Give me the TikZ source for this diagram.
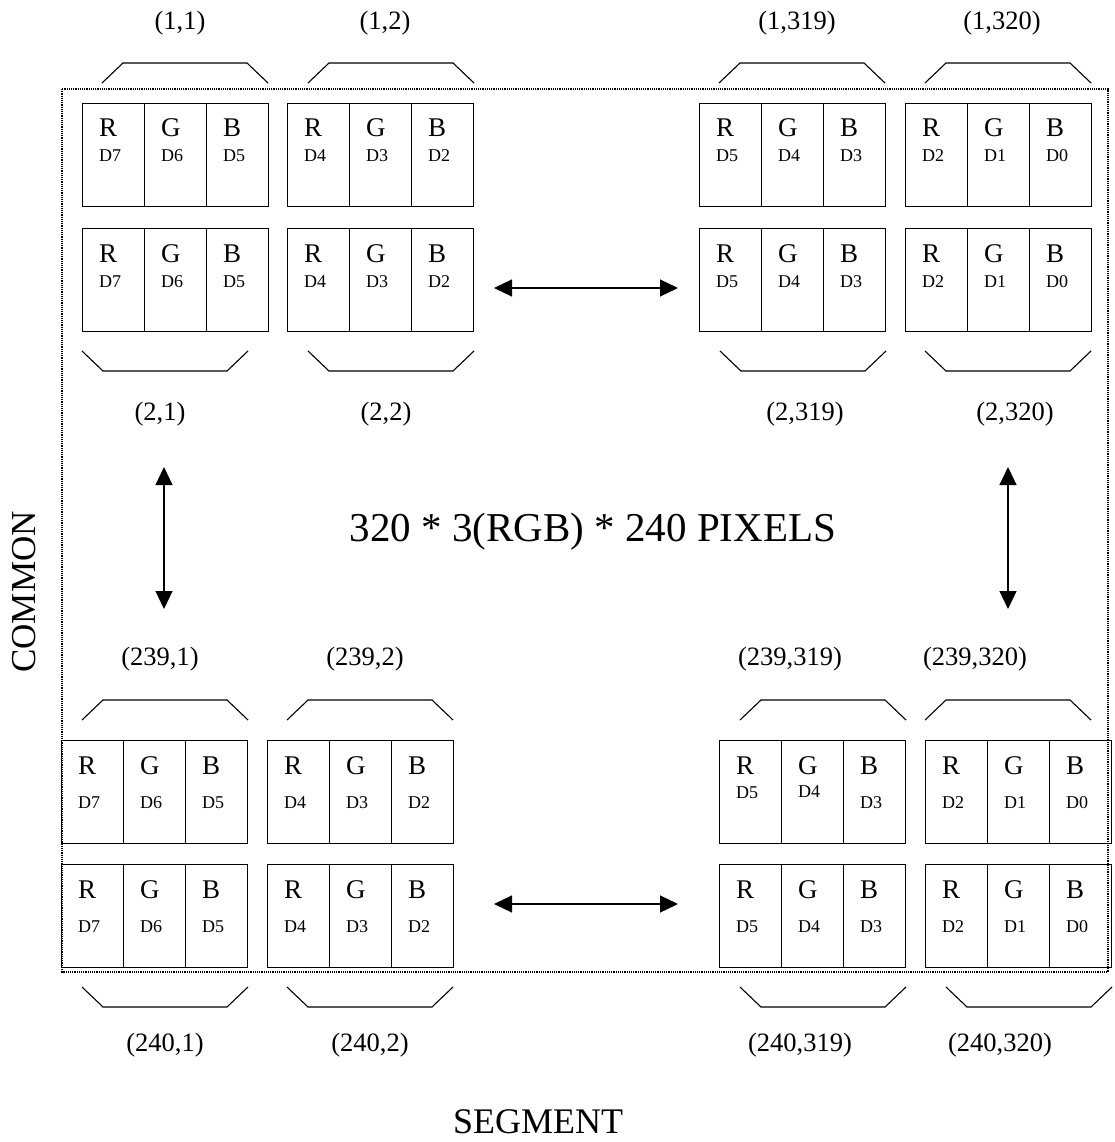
\documentclass[tikz,border=0pt]{standalone}
\usepackage{fontspec}
\setmainfont{Liberation Serif}
\usetikzlibrary{arrows.meta}
\tikzset{
 cell/.style={draw, line width=1.1pt, minimum width=62pt, minimum height=103pt, inner sep=0pt, anchor=north west},
 chan/.style={font=\fontsize{27}{30}\selectfont, inner sep=0pt, anchor=base west},
 dbit/.style={font=\fontsize{18}{20}\selectfont, inner sep=0pt, anchor=base west},
 lbl/.style={font=\fontsize{26.5}{30}\selectfont, inner sep=0pt},
 brk/.style={line width=1.1pt},
 border/.style={densely dotted, line width=1.2pt},
 dbl/.style={line width=1.2pt, {Triangle[length=18pt,width=17pt]}-{Triangle[length=18pt,width=17pt]}},
}
% name, x, y, d1, d2, d3, off1, off2, off3
\newcommand{\pixbox}[9]{%
 \node[cell] (#1r) at (#2,#3) {};
 \node[cell] (#1g) at (#2+62,#3) {};
 \node[cell] (#1b) at (#2+124,#3) {};
 \node[chan] (#1R) at (#2+17,#3+34) {R};
 \node[chan] (#1G) at (#2+79,#3+34) {G};
 \node[chan] (#1B) at (#2+141,#3+34) {B};
 \node[dbit] (#1x) at (#2+17,#3+#7) {#4};
 \node[dbit] (#1y) at (#2+79,#3+#8) {#5};
 \node[dbit] (#1z) at (#2+141,#3+#9) {#6};
}
\newcommand{\topbr}[2]{\draw[brk] (#1,#2) -- (#1+21,#2-20) -- (#1+145,#2-20) -- (#1+166,#2);}
\newcommand{\botbr}[2]{\draw[brk] (#1,#2) -- (#1+21,#2+20) -- (#1+145,#2+20) -- (#1+166,#2);}
\begin{document}
\begin{tikzpicture}[x=1pt,y=-1pt]
\useasboundingbox (0,0) rectangle (1115,1142);
% dotted frame
\draw[border] (62,89) rectangle (1108,972);
% top group
\pixbox{a}{82}{103}{D7}{D6}{D5}{59}{59}{59}
\pixbox{b}{287}{103}{D4}{D3}{D2}{59}{59}{59}
\pixbox{c}{699}{103}{D5}{D4}{D3}{59}{59}{59}
\pixbox{d}{905}{103}{D2}{D1}{D0}{59}{59}{59}
\pixbox{e}{82}{228}{D7}{D6}{D5}{59}{59}{59}
\pixbox{f}{287}{228}{D4}{D3}{D2}{59}{59}{59}
\pixbox{g}{699}{228}{D5}{D4}{D3}{59}{59}{59}
\pixbox{h}{905}{228}{D2}{D1}{D0}{59}{59}{59}
% bottom group
\pixbox{i}{61}{740}{D7}{D6}{D5}{68}{68}{68}
\pixbox{j}{267}{740}{D4}{D3}{D2}{68}{68}{68}
\pixbox{k}{719}{740}{D5}{D4}{D3}{58}{57}{68}
\pixbox{l}{925}{740}{D2}{D1}{D0}{68}{68}{68}
\pixbox{m}{61}{864}{D7}{D6}{D5}{68}{68}{68}
\pixbox{n}{267}{864}{D4}{D3}{D2}{68}{68}{68}
\pixbox{o}{719}{864}{D5}{D4}{D3}{68}{68}{68}
\pixbox{p}{925}{864}{D2}{D1}{D0}{68}{68}{68}
% brackets
\topbr{102}{83} \topbr{308}{83} \topbr{719}{83} \topbr{925}{83}
\botbr{82}{351} \botbr{308}{351} \botbr{720}{351} \botbr{925}{351}
\topbr{82}{720} \topbr{287}{720} \topbr{740}{720} \topbr{925}{720}
\botbr{82}{987} \botbr{287}{987} \botbr{740}{987} \botbr{946}{987}
% labels
\node[lbl] (l11) at (180,23) {(1,1)};
\node[lbl] (l12) at (385,23) {(1,2)};
\node[lbl] (l1a) at (797,23) {(1,319)};
\node[lbl] (l1b) at (1002,23) {(1,320)};
\node[lbl] (l21) at (160,414) {(2,1)};
\node[lbl] (l22) at (386,414) {(2,2)};
\node[lbl] (l2a) at (805,414) {(2,319)};
\node[lbl] (l2b) at (1015,414) {(2,320)};
\node[lbl] (l31) at (160,659) {(239,1)};
\node[lbl] (l32) at (365,659) {(239,2)};
\node[lbl] (l3a) at (790,659) {(239,319)};
\node[lbl] (l3b) at (975,659) {(239,320)};
\node[lbl] (l41) at (165,1045) {(240,1)};
\node[lbl] (l42) at (370,1045) {(240,2)};
\node[lbl] (l4a) at (800,1045) {(240,319)};
\node[lbl] (l4b) at (1000,1045) {(240,320)};
% arrows
\coordinate (h1a) at (494,288); \coordinate (h1b) at (678,288);
\coordinate (h2a) at (494,904); \coordinate (h2b) at (678,904);
\coordinate (v1a) at (164,467); \coordinate (v1b) at (164,609);
\coordinate (v2a) at (1008,467); \coordinate (v2b) at (1008,609);
\draw[dbl] (h1a) -- (h1b);
\draw[dbl] (h2a) -- (h2b);
\draw[dbl] (v1a) -- (v1b);
\draw[dbl] (v2a) -- (v2b);
% titles
\node[font=\fontsize{41}{46}\selectfont, inner sep=0pt, anchor=base] (title) at (593,541) {320 * 3(RGB) * 240 PIXELS};
\node[font=\fontsize{35}{40}\selectfont, inner sep=0pt, rotate=90] (common) at (24,592) {COMMON};
\node[font=\fontsize{36}{40}\selectfont, inner sep=0pt, anchor=base] (segment) at (538,1133) {SEGMENT};
\end{tikzpicture}
\end{document}
